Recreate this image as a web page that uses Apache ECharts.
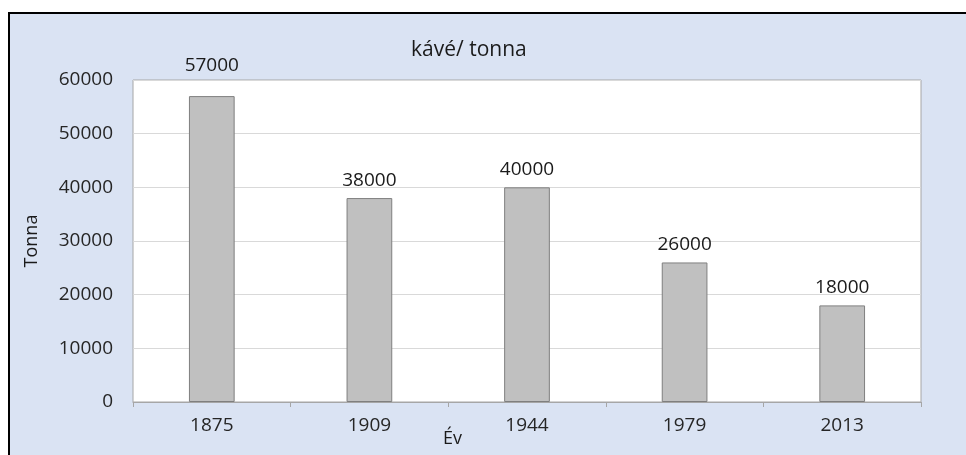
<!DOCTYPE html>
<html>
<head>
<meta charset="utf-8">
<script src="https://cdn.jsdelivr.net/npm/echarts@6/dist/echarts.min.js"></script>
<style>
  html, body { margin: 0; padding: 0; background: #fff; }
  #chart { position: absolute; left: 8px; top: 12px; width: 960px; height: 445px;
           border-left: 2px solid #000; border-top: 2px solid #000; box-sizing: border-box; }
</style>
</head>
<body>
<div id="chart"></div>
<script>
const years = ["1875", "1909", "1944", "1979", "2013"];
const tons = [57000, 38000, 40000, 26000, 18000];
const yTicks = [0, 10000, 20000, 30000, 40000, 50000, 60000];

const font = "Open Sans";
const chart = echarts.init(document.getElementById("chart"));

// the first label sits a bit higher in the original
const barData = tons.map((v, i) => i === 0 ? {value: v, label: {distance: 21}} : v);

chart.setOption({
  backgroundColor: "#dae3f3",
  animation: false,
  title: {
    text: "kávé/ tonna",
    left: 396,
    top: 21,
    textStyle: {fontFamily: font, fontSize: 21, fontWeight: "normal", color: "#1a1a1a"},
  },
  grid: {
    left: 123,
    right: 47,
    top: 66,
    bottom: 55,
    show: true,
    backgroundColor: "#fff",
    borderColor: "#a6a6a6",
    borderWidth: 1,
  },
  xAxis: {
    type: "category",
    data: years,
    axisLine: {lineStyle: {color: "#a6a6a6"}},
    axisTick: {show: true, length: 5, lineStyle: {color: "#a6a6a6"}},
    axisLabel: {fontFamily: font, fontSize: 19, color: "#262626", margin: 14},
  },
  yAxis: {
    type: "value",
    min: yTicks[0],
    max: yTicks[yTicks.length - 1],
    interval: 10000,
    name: "Tonna",
    nameLocation: "middle",
    nameGap: 92,
    nameTextStyle: {fontFamily: font, fontSize: 18, color: "#1a1a1a"},
    axisLine: {show: false},
    axisTick: {show: false},
    axisLabel: {fontFamily: font, fontSize: 19, color: "#262626", margin: 20, formatter: v => String(v)},
    splitLine: {lineStyle: {color: "#d9d9d9"}},
  },
  graphic: [{
    type: "text",
    left: 433,
    top: 416,
    style: {text: "Év", font: "18px " + font, fill: "#1a1a1a"},
  }],
  series: [{
    type: "bar",
    data: barData,
    barWidth: "29%",
    itemStyle: {color: "#c0c0c0", borderColor: "#7f7f7f", borderWidth: 1},
    label: {
      show: true,
      position: "top",
      distance: 8,
      fontFamily: font,
      fontSize: 19,
      color: "#1a1a1a",
    },
  }],
});
</script>
</body>
</html>
